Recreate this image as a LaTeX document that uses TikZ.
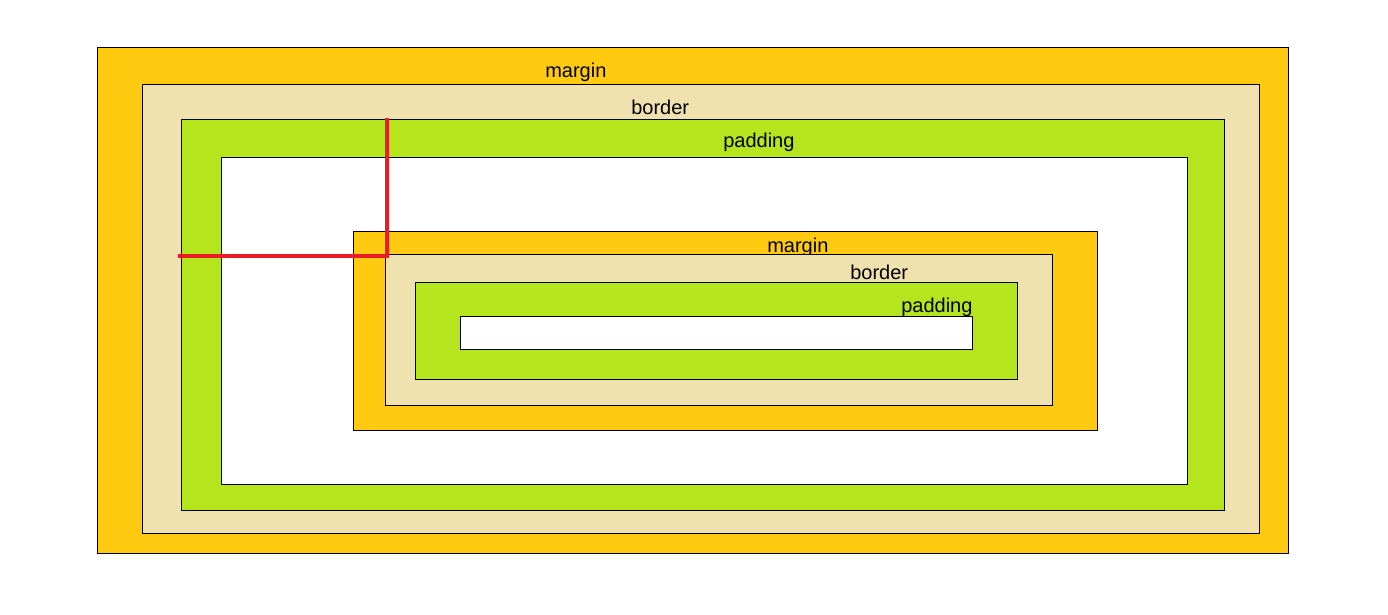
\documentclass[tikz,border=0pt]{standalone}
\usepackage{fontspec}
\setmainfont{Liberation Sans}
\usepackage{tikz}
\usetikzlibrary{positioning,calc}
\definecolor{marginc}{HTML}{FFCA0F}
\definecolor{borderc}{HTML}{EFE2AE}
\definecolor{paddingc}{HTML}{B5E61D}
\definecolor{redline}{HTML}{ED1C24}

\begin{document}
\begin{tikzpicture}[x=0.75pt, y=-0.75pt]
\tikzstyle{box}=[draw=black, line width=0.75pt]
\tikzstyle{marginbox}=[box, fill=marginc]
\tikzstyle{borderbox}=[box, fill=borderc]
\tikzstyle{padbox}=[box, fill=paddingc]
\tikzstyle{contentbox}=[box, fill=white]
\tikzstyle{lbl}=[inner sep=0pt, anchor=base west, font=\fontsize{15}{18}\selectfont]
\tikzstyle{guide}=[draw=redline, line width=3pt]

  \useasboundingbox (0,0) rectangle (1388,614);

  % outer box
  \path[marginbox]  (97,47)   rectangle (1288,553);
  \node[lbl] (outermargin) at (545,77) {margin};
  \path[borderbox]  (142,84)  rectangle (1259,533);
  \node[lbl] (outerborder) at (631,114) {border};
  \path[padbox]     (181,119) rectangle (1224,510);
  \node[lbl] (outerpad) at (723,147) {padding};
  \path[contentbox] (221,157) rectangle (1187,484);

  % inner box
  \path[marginbox]  (353,231) rectangle (1097,430);
  \node[lbl] (innermargin) at (767,252) {margin};
  \path[borderbox]  (385,254) rectangle (1052,405);
  \node[lbl] (innerborder) at (850,279) {border};
  \path[padbox]     (415,282) rectangle (1017,379);
  \node[lbl] (innerpad) at (901,312) {padding};
  \path[contentbox] (460,316) rectangle (972,349);

  % red guide
  \coordinate (gstart) at (178,256);
  \coordinate (gcorner) at (387,256);
  \coordinate (gend) at (387,118);
  \draw[guide] (gstart) -- (gcorner) -- (gend);

\end{tikzpicture}
\end{document}
